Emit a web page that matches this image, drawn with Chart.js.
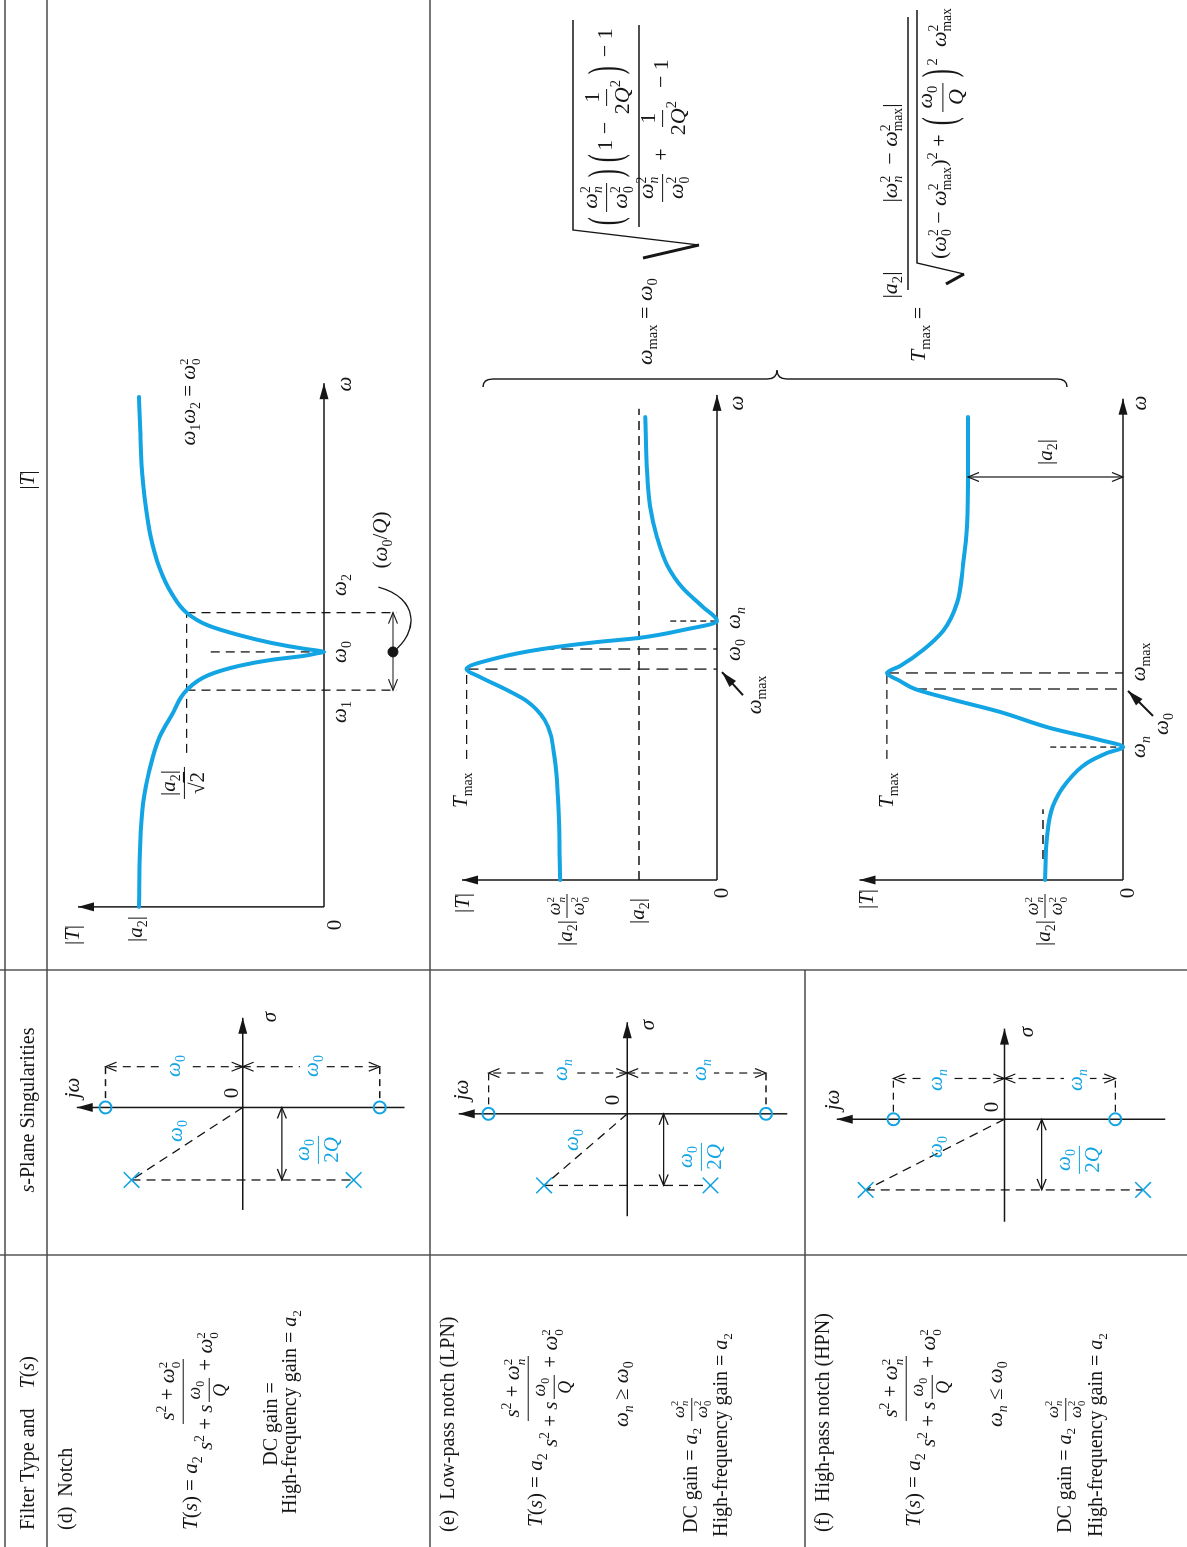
<!DOCTYPE html>
<html>
<head>
<meta charset="utf-8">
<title>Notch, low-pass notch and high-pass notch</title>
<script src="https://cdn.jsdelivr.net/npm/chart.js@4.4.1/dist/chart.umd.min.js"></script>
<style>
  body { margin: 0; width: 1187px; height: 1547px; overflow: hidden; background: #fff; }
  #page { position: absolute; left: 0; top: 1547px; width: 1547px; height: 1187px;
          transform-origin: 0 0; transform: rotate(-90deg);
          font-family: "Liberation Serif", "DejaVu Serif", serif; color: #161616; }
  .t { position: absolute; white-space: nowrap; line-height: 1.1; font-size: 21px; z-index: 3; }
  .big { font-size: 20px; }
  .fm { font-size: 21px; }
  .fx { font-size: 22px; }
  .blue { color: #12a4e3; }
  .bg { background: #fff; padding: 0 2px; }
  .sb { font-size: .66em; vertical-align: -.35em; }
  .sp { font-size: .66em; vertical-align: .6em; }
  .st { display: inline-flex; flex-direction: column; font-size: .62em; line-height: .95; vertical-align: .55em; }
  .fr { display: inline-flex; flex-direction: column; align-items: center; vertical-align: middle; line-height: 1.1; margin: 0 2px; }
  .fr > span:first-child { border-bottom: 1.3px solid currentColor; padding: 0 3px 1px; }
  .fr > span:last-child { padding-top: 1px; }
  .sm { font-size: .85em; }
  .bp { display: inline-block; transform: scale(1.1, 2.1); margin: 0 4px; }
  canvas { position: absolute; z-index: 1; }
  svg { position: absolute; left: 0; top: 0; z-index: 2; }
</style>
</head>
<body>
<div id="page">
  <svg width="1547" height="1187">
    <g stroke="#4a4a4a" stroke-width="1.4" fill="none">
      <line x1="0" y1="5" x2="1547" y2="5"/>
      <line x1="0" y1="47" x2="1547" y2="47"/>
      <line x1="0" y1="430" x2="1547" y2="430"/>
      <line x1="0" y1="805" x2="577" y2="805"/>
      <line x1="292" y1="0" x2="292" y2="1187"/>
      <line x1="577" y1="0" x2="577" y2="1187"/>
    </g>
    <g stroke="#161616" fill="none">
      <path d="M1160 483 Q1168 483 1168 493 L1168 767 Q1168 777 1177 777 Q1168 777 1168 787 L1168 1057 Q1168 1067 1160 1067" stroke-width="1.4"/>
      <path d="M1289 643 L1302 699" stroke-width="3"/>
      <path d="M1302 699 L1317 573 L1527 573" stroke-width="1.3"/>
      <path d="M1320 639 L1522 639" stroke-width="1.3"/>
      <path d="M1257 908 L1530 908" stroke-width="1.3"/>
      <path d="M1263 946 L1273 964" stroke-width="3"/>
      <path d="M1273 964 L1284 917 L1537 917" stroke-width="1.3"/>
    </g>
  </svg>
</div>

<script>
// ---- values ----
// (d) notch: w in units of w0, |T| in units of |a2|
const notchW = [0, 0.223, 0.404, 0.542, 0.665, 0.754, 0.850, 0.908, 0.946, 0.969, 0.985, 0.995, 1.0,
                1.005, 1.012, 1.035, 1.065, 1.104, 1.154, 1.227, 1.331, 1.469, 1.665, 1.896, 2.0];
const notchT = [1.0, 0.995, 0.979, 0.942, 0.890, 0.822, 0.743, 0.628, 0.455, 0.283, 0.105, 0.035, 0,
                0.035, 0.105, 0.283, 0.455, 0.628, 0.743, 0.822, 0.890, 0.942, 0.979, 0.995, 1.0];
const notchMarks = [0.850, 1.0, 1.154];   // w1, w0, w2
const notchHalf = 0.743;                   // |a2|/sqrt2

// (e) low-pass notch
const lpnW = [0, 0.355, 0.524, 0.693, 0.775, 0.827, 0.879, 0.913, 0.961, 1.0, 1.03, 1.048, 1.082, 1.121,
              1.182, 1.264, 1.364, 1.485, 1.619, 1.788, 2.004];
const lpnT = [2.01, 2.04, 2.08, 2.21, 2.44, 2.72, 3.04, 3.21, 2.82, 2.24, 1.54, 1.0, 0.44, 0,
              0.18, 0.44, 0.64, 0.77, 0.86, 0.90, 0.92];
const lpnMarks = [0.913, 1.0, 1.121];     // wmax, w0, wn
const lpnLevels = [3.21, 2.24, 0.60, 1.0]; // Tmax, w0 guide, wn guide, |a2|

// (f) high-pass notch
const hpnW = [0, 0.225, 0.387, 0.513, 0.613, 0.665, 0.696, 0.733, 0.796, 0.880, 0.948, 1.0, 1.042, 1.084,
              1.120, 1.204, 1.304, 1.450, 1.649, 1.853, 2.162, 2.424];
const hpnT = [0.503, 0.49, 0.452, 0.361, 0.232, 0.103, 0, 0.148, 0.471, 0.794, 1.116, 1.342, 1.439, 1.523,
              1.439, 1.290, 1.161, 1.071, 1.032, 1.006, 1.0, 1.0];
const hpnMarks = [0.696, 1.0, 1.084];              // wn, w0, wmax
const hpnLevels = [0.47, 1.342, 1.523, 1.0, 0.516]; // wn guide, w0 guide, Tmax, |a2|, DC

// s-plane singularities (unit = distance of the zeros from origin)
const zeroJw = [1, 1, 1];
const poleSigma = [-0.544, -0.53, -0.655];
const poleJw = [0.81, 0.60, 1.25];

// ---- layout (landscape coordinates, page is turned afterwards) ----
const BLUE = '#12a4e3';
const pBox = [[590, 40, 620, 388], [590, 440, 620, 362], [590, 812, 620, 372]];
const pOrg = [[635, 327], [667, 717], [667, 1123]];
const pUnit = [[260, 191], [231, 78], [191, 155]];
const sBox = [[300, 50, 270, 375], [300, 435, 270, 365], [300, 810, 270, 372]];
const sOrg = [[440, 243], [433, 628], [427, 1005]];
const sUnit = [147, 149, 119];
const sAxis = [[-0.769, 0.673, -1.18, 1.21], [-0.758, 0.678, -1.154, 1.215], [-0.95, 0.84, -1.45, 1.51]];
const dimSigma = [0.306, 0.302, 0.378];
const dimJw = [-0.286, -0.262, -0.336];

const page = document.getElementById('page');

function head(ctx, x1, y1, x2, y2, kind) {
  const a = Math.atan2(y2 - y1, x2 - x1);
  const L = kind === 'fill' ? 16 : 11, W = 4.5;
  const bx = x2 - L * Math.cos(a), by = y2 - L * Math.sin(a);
  const px = -Math.sin(a) * W, py = Math.cos(a) * W;
  ctx.beginPath();
  ctx.moveTo(bx + px, by + py); ctx.lineTo(x2, y2); ctx.lineTo(bx - px, by - py);
  if (kind === 'fill') { ctx.closePath(); ctx.fill(); } else ctx.stroke();
}

function seg(ctx, x1, y1, x2, y2) {
  ctx.beginPath(); ctx.moveTo(x1, y1); ctx.lineTo(x2, y2); ctx.stroke();
}

function deco(spec) {
  return {
    id: 'deco',
    beforeDatasetsDraw(chart) {
      const ctx = chart.ctx, sx = chart.scales.x, sy = chart.scales.y;
      const P = (x, y) => [sx.getPixelForValue(x), sy.getPixelForValue(y)];
      ctx.save();
      ctx.strokeStyle = ctx.fillStyle = '#161616';
      ctx.lineWidth = 1.5;
      (spec.axes || []).forEach(a => {
        const [x1, y1] = P(a[0], a[1]), [x2, y2] = P(a[2], a[3]);
        seg(ctx, x1, y1, x2, y2);
        head(ctx, x1, y1, x2, y2, 'fill');
      });
      ctx.restore();
    },
    afterDatasetsDraw(chart) {
      const ctx = chart.ctx, sx = chart.scales.x, sy = chart.scales.y;
      const P = (x, y) => [sx.getPixelForValue(x), sy.getPixelForValue(y)];
      ctx.save();
      ctx.strokeStyle = ctx.fillStyle = '#161616';
      ctx.lineWidth = 1.2;
      (spec.dims || []).forEach(d => {
        const [x1, y1] = P(d.a[0], d.a[1]), [x2, y2] = P(d.b[0], d.b[1]);
        ctx.setLineDash(d.dash ? [8, 6] : []);
        seg(ctx, x1, y1, x2, y2);
        ctx.setLineDash([]);
        head(ctx, x1, y1, x2, y2, 'open');
        if (d.both) head(ctx, x2, y2, x1, y1, 'open');
      });
      ctx.lineWidth = 2;
      (spec.pointers || []).forEach(p => {
        const [x1, y1] = P(p[0], p[1]), [x2, y2] = P(p[2], p[3]);
        seg(ctx, x1, y1, x2, y2);
        head(ctx, x1, y1, x2, y2, 'fill');
      });
      if (spec.leader) {
        const q = spec.leader.map(v => P(v[0], v[1]));
        ctx.lineWidth = 1.3;
        ctx.beginPath();
        ctx.moveTo(q[0][0], q[0][1]);
        ctx.bezierCurveTo(q[1][0], q[1][1], q[2][0], q[2][1], q[3][0], q[3][1]);
        ctx.stroke();
      }
      ctx.restore();
    }
  };
}

function panel(box, org, unit, datasets, spec) {
  const c = document.createElement('canvas');
  c.width = box[2]; c.height = box[3];
  c.style.cssText = `left:${box[0]}px;top:${box[1]}px;width:${box[2]}px;height:${box[3]}px;`;
  page.appendChild(c);
  return new Chart(c, {
    type: 'scatter',
    data: { datasets },
    options: {
      responsive: false, animation: false, devicePixelRatio: 1, events: [],
      layout: { padding: 0 },
      plugins: { legend: { display: false }, tooltip: { enabled: false } },
      scales: {
        x: { type: 'linear', display: false, min: (box[0] - org[0]) / unit[0], max: (box[0] + box[2] - org[0]) / unit[0] },
        y: { type: 'linear', display: false, min: (org[1] - box[1] - box[3]) / unit[1], max: (org[1] - box[1]) / unit[1] }
      }
    },
    plugins: [deco(spec)]
  });
}

const pts = (xs, ys) => xs.map((x, i) => ({ x, y: ys[i] }));
const curve = (xs, ys) => ({ data: pts(xs, ys), showLine: true, borderColor: BLUE, borderWidth: 4,
  pointRadius: 0, cubicInterpolationMode: 'monotone', borderCapStyle: 'round' });
const dash = (xs, ys, d = [9, 6]) => ({ data: pts(xs, ys), showLine: true, borderColor: '#161616',
  borderWidth: 1.3, borderDash: d, pointRadius: 0 });

// (d) notch response
{
  const [w1, w0, w2] = notchMarks, yd = -0.372;
  panel(pBox[0], pOrg[0], pUnit[0], [
    curve(notchW, notchT),
    dash([0.604, w2], [notchHalf, notchHalf]),
    dash([w1, w1], [notchHalf, -0.393]),
    dash([w2, w2], [notchHalf, -0.393]),
    dash([w0, w0], [0.613, 0]),
    { data: [{ x: w0, y: yd }], pointRadius: 5, pointBackgroundColor: '#161616', pointBorderColor: '#161616' }
  ], {
    axes: [[0, 0, 2.054, 0], [0, 0, 0, 1.33]],
    dims: [{ a: [w0, yd], b: [w1, yd] }, { a: [w0, yd], b: [w2, yd] }],
    leader: [[w0, yd], [1.077, -0.513], [1.212, -0.513], [1.254, -0.293]]
  });
}
// (e) low-pass notch response
{
  const [wm, w0, wn] = lpnMarks, [tm, g0, gn, a2] = lpnLevels;
  panel(pBox[1], pOrg[1], pUnit[1], [
    curve(lpnW, lpnT),
    dash([0, 2.04], [a2, a2]),
    dash([0.524, wm], [tm, tm]),
    dash([wm, wm], [tm, 0], [12, 7]),
    dash([w0, w0], [g0, 0], [12, 7]),
    dash([wn, wn], [gn, 0], [6, 4])
  ], {
    axes: [[0, 0, 2.10, 0], [0, 0, 0, 3.27]],
    pointers: [[0.80, -0.333, 0.90, -0.064]]
  });
}
// (f) high-pass notch response
{
  const [wn, w0, wm] = hpnMarks, [gn, g0, tm, a2, dc] = hpnLevels;
  panel(pBox[2], pOrg[2], pUnit[2], [
    curve(hpnW, hpnT),
    dash([0.11, 0.37], [dc, dc]),
    dash([0.634, wm], [tm, tm]),
    dash([wm, wm], [tm, 0], [12, 7]),
    dash([w0, w0], [g0, 0], [12, 7]),
    dash([wn, wn], [gn, 0], [6, 4])
  ], {
    axes: [[0, 0, 2.52, 0], [0, 0, 0, 1.70]],
    dims: [{ a: [2.11, 0], b: [2.11, a2], both: true }],
    pointers: [[0.859, -0.194, 0.99, -0.032]]
  });
}
// s-plane diagrams
for (let i = 0; i < 3; i++) {
  const ps = poleSigma[i], pj = poleJw[i], z = zeroJw[i], ds = dimSigma[i], dj = dimJw[i], ax = sAxis[i];
  panel(sBox[i], sOrg[i], [sUnit[i], sUnit[i]], [
    { data: [{ x: 0, y: z }, { x: 0, y: -z }], pointStyle: 'circle', pointRadius: 6, pointBorderWidth: 2,
      pointBorderColor: BLUE, pointBackgroundColor: 'rgba(0,0,0,0)' },
    { data: [{ x: ps, y: pj }, { x: ps, y: -pj }], pointStyle: 'crossRot', pointRadius: 11, pointBorderWidth: 1.6,
      pointBorderColor: BLUE, borderColor: BLUE },
    dash([0, ps], [0, pj]),
    dash([ps, ps], [pj, -pj]),
    dash([0.07, ds], [z, z], [7, 5]),
    dash([0.07, ds], [-z, -z], [7, 5])
  ], {
    axes: [[ax[0], 0, ax[1], 0], [0, ax[2], 0, ax[3]]],
    dims: [{ a: [ds, 0], b: [ds, z], dash: true, both: true }, { a: [ds, 0], b: [ds, -z], dash: true, both: true },
           { a: [ps, dj], b: [0, dj], both: true }]
  });
}

// ---- text ----
const sb = t => `<span class="sb">${t}</span>`;
const sp = t => `<span class="sp">${t}</span>`;
const st = (up, dn) => `<span class="st"><span>${up}</span><span>${dn}</span></span>`;
const fr = (n, d, c = '') => `<span class="fr ${c}"><span>${n}</span><span>${d}</span></span>`;
const W = '<i>ω</i>';
const w0 = W + sb('0'), wn = W + sb('<i>n</i>'), wmax = W + sb('max');
const w02 = W + st('2', '0'), wn2 = W + st('2', '<i>n</i>'), wmax2 = W + st('2', 'max');
const a2 = '<i>a</i>' + sb('2'), A2 = '|' + a2 + '|';
const Q2 = '2<i>Q</i>' + sp('2');
const tf = num => `<i>T</i>(<i>s</i>) = ${a2}&thinsp;` +
  fr(`<i>s</i>${sp('2')} + ${num}`, `<i>s</i>${sp('2')} + <i>s</i>${fr(w0, '<i>Q</i>', 'sm')} + ${w02}`);

function lab(x, y, html, o = {}) {
  const d = document.createElement('div');
  d.className = 't' + (o.cls ? ' ' + o.cls : '');
  d.innerHTML = html;
  d.style.left = x + 'px'; d.style.top = y + 'px';
  d.style.transform = o.left ? 'translate(0,-50%)' : 'translate(-50%,-50%)';
  page.appendChild(d);
}

// header
lab(17, 27, 'Filter Type and&nbsp;&nbsp;&nbsp; <i>T</i>(<i>s</i>)', { left: 1, cls: 'big' });
lab(437, 27, '<i>s</i>-Plane Singularities', { cls: 'big' });
lab(1067, 27, '|<i>T</i>|', { cls: 'big' });

// filter type column
lab(17, 65, '(d)&nbsp; Notch', { left: 1, cls: 'big' });
lab(17, 192, tf(w02), { left: 1, cls: 'fm' });
lab(123, 270, 'DC gain =', { cls: 'big' });
lab(135, 291, 'High-frequency gain = ' + a2, { cls: 'big' });

lab(15, 447, '(e)&nbsp; Low-pass notch (LPN)', { left: 1, cls: 'big' });
lab(20, 537, tf(wn2), { left: 1, cls: 'fm' });
lab(120, 623, wn + ' ≥ ' + w0, { left: 1 });
lab(14, 692, 'DC gain = ' + a2 + ' ' + fr(wn2, w02, 'sm'), { left: 1, cls: 'big' });
lab(10, 722, 'High-frequency gain = ' + a2, { left: 1, cls: 'big' });

lab(15, 822, '(f)&nbsp; High-pass notch (HPN)', { left: 1, cls: 'big' });
lab(20, 915, tf(wn2), { left: 1, cls: 'fm' });
lab(120, 997, wn + ' ≤ ' + w0, { left: 1 });
lab(14, 1066, 'DC gain = ' + a2 + ' ' + fr(wn2, w02, 'sm'), { left: 1, cls: 'big' });
lab(10, 1097, 'High-frequency gain = ' + a2, { left: 1, cls: 'big' });

// s-plane labels
const sLab = [
  { jw: [459, 73], sg: [530, 270], o: [454, 232], d1: [481, 175], d2: [481, 313], r: [416, 177], q: [397, 317], dn: w0 },
  { jw: [457, 462], sg: [522, 648], o: [447, 613], d1: [477, 562], d2: [477, 701], r: [407, 573], q: [390, 700], dn: wn },
  { jw: [447, 833], sg: [515, 1027], o: [440, 992], d1: [467, 937], d2: [467, 1077], r: [400, 937], q: [387, 1078], dn: wn }
];
sLab.forEach(s => {
  lab(s.jw[0], s.jw[1], '<i>j</i>' + W);
  lab(s.sg[0], s.sg[1], '<i>σ</i>');
  lab(s.o[0], s.o[1], '0');
  lab(s.d1[0], s.d1[1], s.dn, { cls: 'blue bg' });
  lab(s.d2[0], s.d2[1], s.dn, { cls: 'blue bg' });
  lab(s.r[0], s.r[1], w0, { cls: 'blue' });
  lab(s.q[0], s.q[1], fr(w0, '2<i>Q</i>'), { cls: 'blue' });
});

// |T| plot labels
lab(612, 73, '|<i>T</i>|');
lab(618, 137, A2);
lab(622, 335, '0');
lab(1163, 345, W);
lab(835, 341, W + sb('1'));
lab(895, 341, w0);
lab(962, 341, W + sb('2'));
lab(764, 183, fr(A2, '√<span style="text-decoration:overline">2</span>'));
lab(1007, 382, '(' + w0 + '/<i>Q</i>)');
lab(1145, 190, W + sb('1') + W + sb('2') + ' = ' + w02);

lab(644, 463, '|<i>T</i>|');
lab(628, 567, A2 + fr(wn2, w02, 'sm'));
lab(636, 639, A2);
lab(654, 722, '0');
lab(1144, 737, W);
lab(739, 462, '<i>T</i>' + sb('max'), { left: 1 });
lab(929, 735, wn);
lab(897, 735, w0);
lab(852, 756, wmax);

lab(648, 867, '|<i>T</i>|');
lab(628, 1045, A2 + fr(wn2, w02, 'sm'));
lab(654, 1128, '0');
lab(1144, 1140, W);
lab(739, 888, '<i>T</i>' + sb('max'), { left: 1 });
lab(800, 1140, wn);
lab(885, 1140, wmax);
lab(823, 1163, w0);
lab(1095, 1047, A2);

// formulas for wmax and Tmax
lab(1182, 647, wmax + ' = ' + w0, { left: 1, cls: 'fx' });
lab(1318, 607, '<span class="bp">(</span>' + fr(wn2, w02) + '<span class="bp">)</span><span class="bp">(</span>1 − ' +
  fr('1', Q2) + '<span class="bp">)</span> − 1', { left: 1, cls: 'fx' });
lab(1343, 663, fr(wn2, w02) + ' &nbsp;+&nbsp; ' + fr('1', Q2) + ' &nbsp;− 1', { left: 1, cls: 'fx' });
lab(1185, 920, '<i>T</i>' + sb('max') + ' =', { left: 1, cls: 'fx' });
lab(1262, 892, A2, { cls: 'fx' });
lab(1394, 892, '|' + wn2 + ' &nbsp;− ' + wmax2 + '|', { cls: 'fx' });
lab(1288, 941, '(' + w02 + ' − ' + wmax2 + ')' + sp('2') + ' + <span class="bp">(</span>' + fr(w0, '<i>Q</i>') +
  '<span class="bp">)</span>' + sp('2') + '&nbsp;&nbsp;' + wmax2, { left: 1, cls: 'fx' });
</script>
</body>
</html>
